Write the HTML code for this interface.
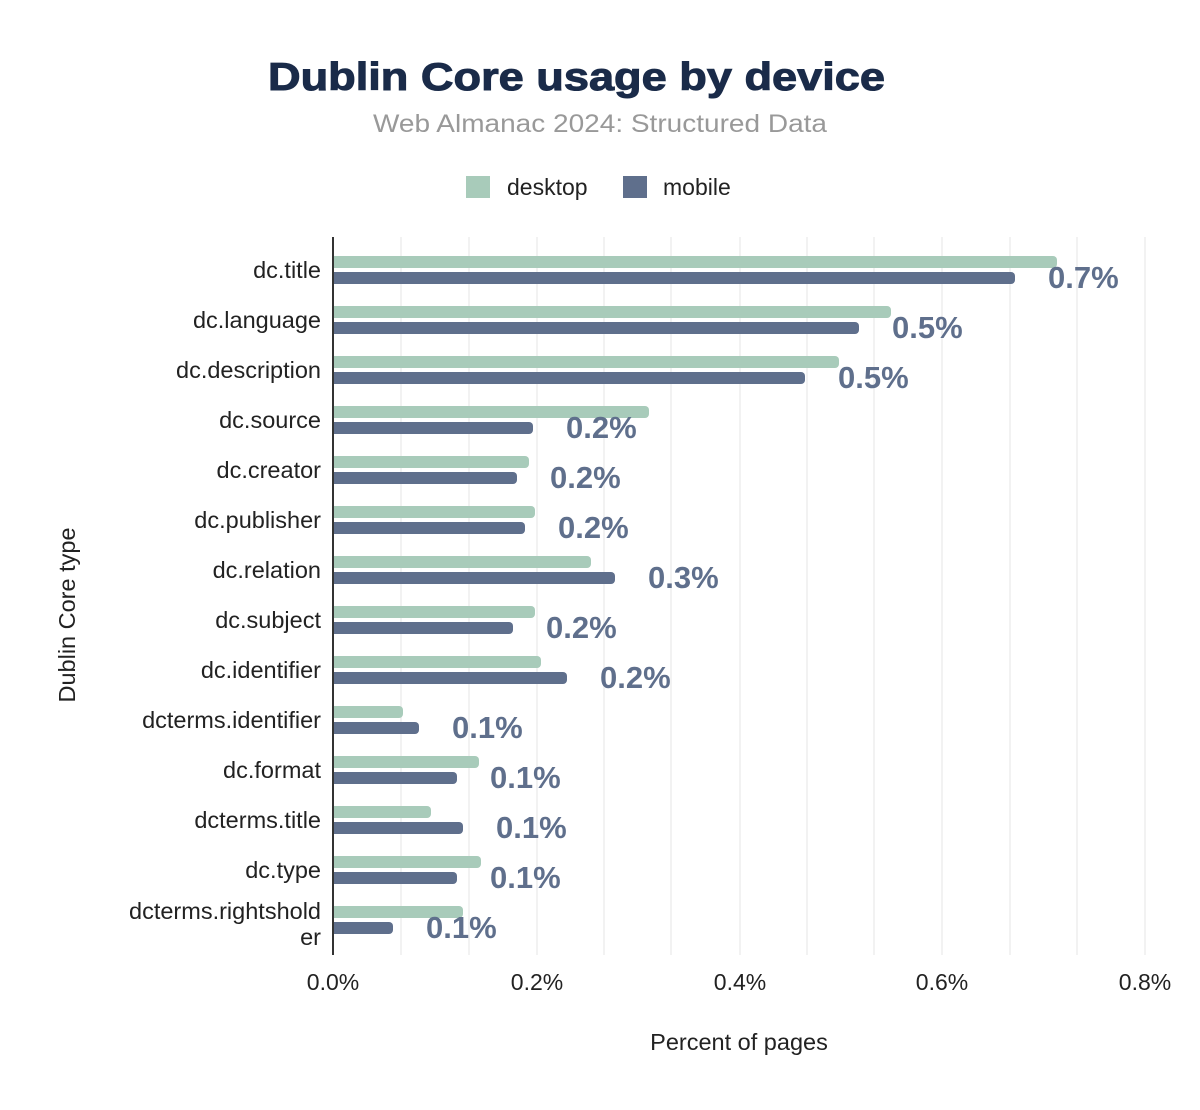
<!DOCTYPE html>
<html><head><style>body{margin:0;background:#fff}svg{display:block}</style></head><body>
<svg width="1200" height="1110" xmlns="http://www.w3.org/2000/svg" font-family="Liberation Sans, Arial, sans-serif">
<text x="268" y="90" textLength="617" lengthAdjust="spacingAndGlyphs" font-size="39" font-weight="bold" fill="#1a2b49" stroke="#1a2b49" stroke-width="1">Dublin Core usage by device</text>
<text x="373" y="132" textLength="454" lengthAdjust="spacingAndGlyphs" font-size="25" fill="#999">Web Almanac 2024: Structured Data</text>
<rect x="466" y="176" width="24" height="22" fill="#a8cbba"/><text x="507" y="195" font-size="23" fill="#222">desktop</text>
<rect x="623" y="176" width="24" height="22" fill="#5f6f8c"/><text x="663" y="195" font-size="23" fill="#222">mobile</text>
<g stroke="#f2f2f2" stroke-width="2">
<line x1="401" y1="237" x2="401" y2="955"/><line x1="469" y1="237" x2="469" y2="955"/><line x1="537" y1="237" x2="537" y2="955"/><line x1="604" y1="237" x2="604" y2="955"/><line x1="671" y1="237" x2="671" y2="955"/><line x1="740" y1="237" x2="740" y2="955"/><line x1="807" y1="237" x2="807" y2="955"/><line x1="874" y1="237" x2="874" y2="955"/><line x1="942" y1="237" x2="942" y2="955"/><line x1="1010" y1="237" x2="1010" y2="955"/><line x1="1077" y1="237" x2="1077" y2="955"/><line x1="1145" y1="237" x2="1145" y2="955"/>
</g>
<g id="bars"></g>
<line x1="333" y1="237" x2="333" y2="955" stroke="#333" stroke-width="2"/>
<g font-size="23" fill="#222" text-anchor="middle">
<text x="333" y="990">0.0%</text><text x="537" y="990">0.2%</text><text x="740" y="990">0.4%</text><text x="942" y="990">0.6%</text><text x="1145" y="990">0.8%</text>
</g>
<text x="739" y="1050" text-anchor="middle" font-size="23.5" fill="#222">Percent of pages</text>
<text transform="translate(75,615) rotate(-90)" text-anchor="middle" font-size="23.5" fill="#222">Dublin Core type</text>
<g id="labels" font-size="23.5" fill="#222" text-anchor="end"></g>
<g id="vals" font-size="31" font-weight="bold" fill="#5f6f8c"></g>
<script>
var d=[["dc.title",1057,1015,"0.7%"],["dc.language",891,859,"0.5%"],["dc.description",839,805,"0.5%"],["dc.source",649,533,"0.2%"],["dc.creator",529,517,"0.2%"],["dc.publisher",535,525,"0.2%"],["dc.relation",591,615,"0.3%"],["dc.subject",535,513,"0.2%"],["dc.identifier",541,567,"0.2%"],["dcterms.identifier",403,419,"0.1%"],["dc.format",479,457,"0.1%"],["dcterms.title",431,463,"0.1%"],["dc.type",481,457,"0.1%"],["dcterms.rightsholder",463,393,"0.1%"]];
var ns="http://www.w3.org/2000/svg",b=document.getElementById("bars"),l=document.getElementById("labels"),v=document.getElementById("vals");
function el(t,a,p,tx){var e=document.createElementNS(ns,t);for(var k in a)e.setAttribute(k,a[k]);if(tx)e.textContent=tx;p.appendChild(e);return e;}
d.forEach(function(r,i){var c=270+50*i;
el("path",{d:"M333 "+(c-14)+"H"+(r[1]-4)+"a4 4 0 0 1 4 4v4a4 4 0 0 1 -4 4H333z",fill:"#a8cbba"},b);
el("path",{d:"M333 "+(c+2)+"H"+(r[2]-4)+"a4 4 0 0 1 4 4v4a4 4 0 0 1 -4 4H333z",fill:"#5f6f8c"},b);
if(i==13){el("text",{x:321,y:919},l,"dcterms.rightshold");el("text",{x:321,y:945},l,"er");}
else el("text",{x:321,y:c+8},l,r[0]);
el("text",{x:r[2]+33,y:c+18},v,r[3]);});
</script>
</svg>
</body></html>
